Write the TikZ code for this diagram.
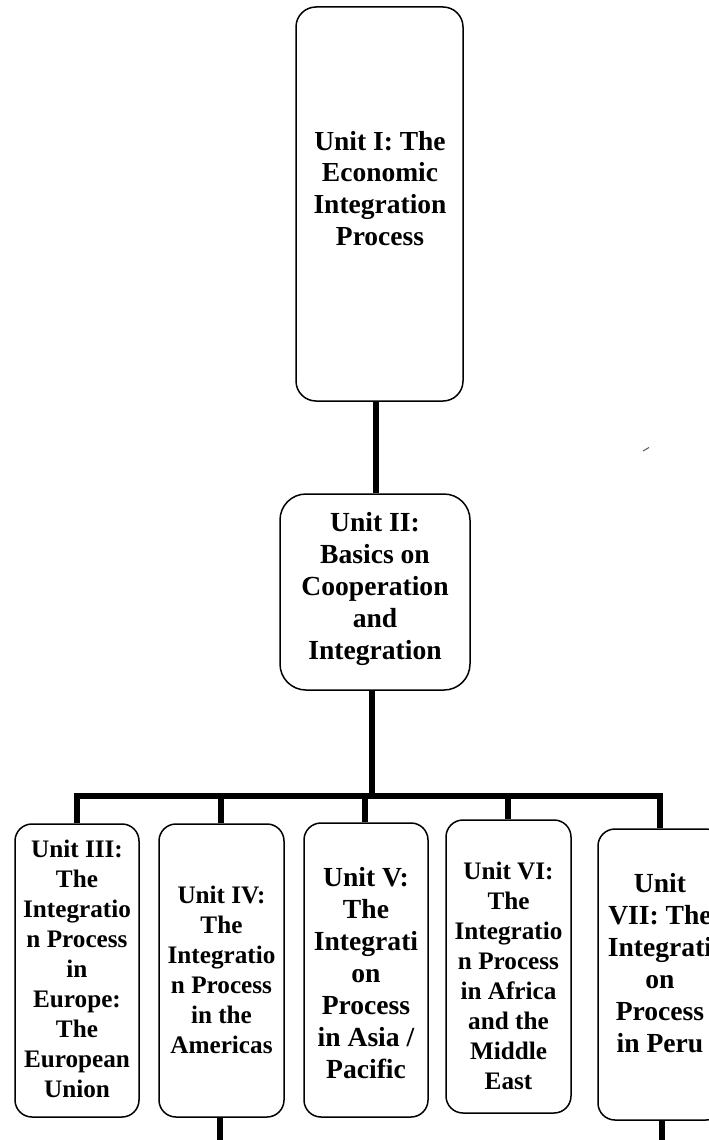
\documentclass[tikz,border=0pt]{standalone}
\usepackage{fontspec}
\setmainfont{Liberation Serif}
\usetikzlibrary{calc}

\begin{document}
\begin{tikzpicture}[x=1pt, y=-1pt,
  unitbox/.style={draw=black, line width=1.5pt, rounded corners=20pt, inner sep=0pt},
  unittext/.style={anchor=north, align=center, inner sep=0pt, font=\bfseries},
  bigtext/.style={unittext, font=\fontsize{27.6}{32}\selectfont\bfseries},
  smalltext/.style={unittext, font=\fontsize{25.2}{30}\selectfont\bfseries},
  conn/.style={draw=black, line width=6.5pt}]

\useasboundingbox (0,0) rectangle (709,1140);

% unit boxes
\node[unitbox, minimum width=167pt, minimum height=394pt] (u1) at (379.5,204) {};
\node[unitbox, minimum width=190pt, minimum height=196pt, rounded corners=26pt] (u2) at (375,592) {};
\node[unitbox, minimum width=124pt, minimum height=293pt, rounded corners=17pt] (u3) at (77,970.5) {};
\node[unitbox, minimum width=125pt, minimum height=293pt, rounded corners=17pt] (u4) at (221.5,970.5) {};
\node[unitbox, minimum width=124pt, minimum height=294pt, rounded corners=17pt] (u5) at (366,970) {};
\node[unitbox, minimum width=125pt, minimum height=293pt, rounded corners=17pt] (u6) at (508.5,966.5) {};
\node[unitbox, minimum width=125pt, minimum height=291pt, rounded corners=17pt] (u7) at (660.5,974.5) {};

% unit titles
\node[bigtext, font=\fontsize{27.5}{31.7}\selectfont\bfseries] (t1) at (380,131)
  {Unit I: The\\Economic\\Integration\\Process};
\node[bigtext] (t2) at (375,512)
  {Unit II:\\Basics on\\Cooperation\\and\\Integration};
\node[smalltext] (t3) at (77,840)
  {Unit III:\\The\\Integratio\\n Process\\in\\Europe:\\The\\European\\Union};
\node[smalltext] (t4) at (221.5,886)
  {Unit IV:\\The\\Integratio\\n Process\\in the\\Americas};
\node[bigtext] (t5) at (366,867)
  {Unit V:\\The\\Integrati\\on\\Process\\in Asia /\\Pacific};
\node[smalltext] (t6) at (508.5,862)
  {Unit VI:\\The\\Integratio\\n Process\\in Africa\\and the\\Middle\\East};
\node[bigtext] (t7) at (660,873)
  {Unit\\VII: The\\Integrati\\on\\Process\\in Peru};

% connectors
\coordinate (hub) at (372,796);
\coordinate (end4) at (220,1140);
\coordinate (end7) at (662,1140);

\draw[conn] ([xshift=-3.5pt]u1.south) -- ([xshift=1pt]u2.north);
\draw[conn] ([xshift=-3pt]u2.south) -- (hub);
\draw[conn] (u3.north) |- (hub);
\draw[conn] ([xshift=-0.5pt]u4.north) |- (hub);
\draw[conn] ([xshift=-1pt]u5.north) |- (hub);
\draw[conn] ([xshift=-0.5pt]u6.north) |- (hub);
\draw[conn] ([xshift=-0.5pt]u7.north) |- (hub);
\draw[conn] (u4.south -| end4) -- (end4);
\draw[conn] (u7.south -| end7) -- (end7);

% small stray stroke
\draw[gray!70!black, line width=1pt] (643,451) -- (649,447.5);

\end{tikzpicture}
\end{document}
